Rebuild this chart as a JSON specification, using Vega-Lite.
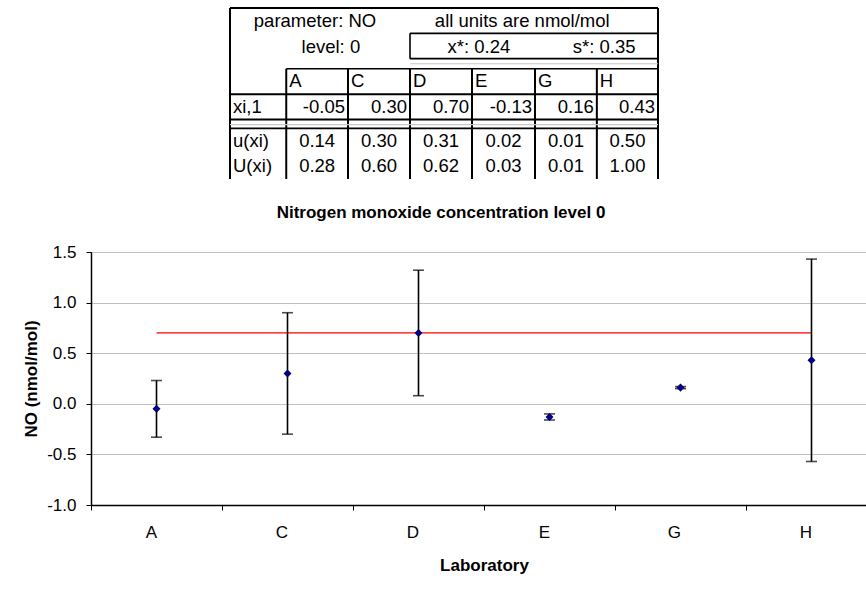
{
  "$schema": "https://vega.github.io/schema/vega-lite/v6.json",
  "padding": {"left": 22, "top": 7, "right": 0, "bottom": 0},
  "background": "white",
  "config": {"font": "Liberation Sans", "concat": {"spacing": 23}},
  "datasets": {
    "labs": [
      {"lab": "A", "xi": -0.05, "u": 0.14, "U": 0.28, "lo": -0.33, "hi": 0.23},
      {"lab": "C", "xi": 0.30, "u": 0.30, "U": 0.60, "lo": -0.30, "hi": 0.90},
      {"lab": "D", "xi": 0.70, "u": 0.31, "U": 0.62, "lo": 0.08, "hi": 1.32},
      {"lab": "E", "xi": -0.13, "u": 0.02, "U": 0.03, "lo": -0.16, "hi": -0.10},
      {"lab": "G", "xi": 0.16, "u": 0.01, "U": 0.01, "lo": 0.15, "hi": 0.17},
      {"lab": "H", "xi": 0.43, "u": 0.50, "U": 1.00, "lo": -0.57, "hi": 1.43}
    ],
    "ref": [{"from": "A", "to": "H", "level": 0.70}],
    "tlines": [
      {"kind": "thick", "c1": 0, "c2": 7, "r1": 0, "r2": 0},
      {"kind": "thick", "c1": 0, "c2": 0, "r1": 0, "r2": 6.75},
      {"kind": "thick", "c1": 7, "c2": 7, "r1": 0, "r2": 6.75},
      {"kind": "thin", "c1": 2.944, "c2": 7, "r1": 1, "r2": 1},
      {"kind": "thin", "c1": 2.944, "c2": 7, "r1": 2, "r2": 2},
      {"kind": "thin", "c1": 2.944, "c2": 2.944, "r1": 1, "r2": 2},
      {"kind": "gray", "c1": 2.944, "c2": 7, "r1": 2.2, "r2": 2.2},
      {"kind": "thin", "c1": 0.92, "c2": 7, "r1": 2.4, "r2": 2.4},
      {"kind": "thick", "c1": 0.92, "c2": 0.92, "r1": 2.4, "r2": 6.75},
      {"kind": "thick", "c1": 1.93, "c2": 1.93, "r1": 2.4, "r2": 6.75},
      {"kind": "thick", "c1": 2.944, "c2": 2.944, "r1": 2.4, "r2": 6.75},
      {"kind": "thick", "c1": 3.958, "c2": 3.958, "r1": 2.4, "r2": 6.75},
      {"kind": "thick", "c1": 4.988, "c2": 4.988, "r1": 2.4, "r2": 6.75},
      {"kind": "thick", "c1": 6.0, "c2": 6.0, "r1": 2.4, "r2": 6.75},
      {"kind": "thick", "c1": 0, "c2": 7, "r1": 3.4, "r2": 3.4},
      {"kind": "thick", "c1": 0, "c2": 7, "r1": 4.4, "r2": 4.4},
      {"kind": "gray", "c1": 0, "c2": 7, "r1": 4.6, "r2": 4.6},
      {"kind": "thin", "c1": 0, "c2": 7, "r1": 4.75, "r2": 4.75}
    ],
    "ttext": [
      {"part": "center", "c": 1.39, "r": 0.5, "text": "parameter: NO"},
      {"part": "center", "c": 1.65, "r": 1.55, "text": "level: 0"},
      {"part": "center", "c": 4.78, "r": 0.5, "text": "all units are nmol/mol"},
      {"part": "center", "c": 4.07, "r": 1.55, "text": "x*: 0.24"},
      {"part": "center", "c": 6.12, "r": 1.55, "text": "s*: 0.35"},
      {"part": "left", "c": 0.92, "r": 2.9, "text": "A"},
      {"part": "left", "c": 1.93, "r": 2.9, "text": "C"},
      {"part": "left", "c": 2.944, "r": 2.9, "text": "D"},
      {"part": "left", "c": 3.958, "r": 2.9, "text": "E"},
      {"part": "left", "c": 4.988, "r": 2.9, "text": "G"},
      {"part": "left", "c": 6.0, "r": 2.9, "text": "H"},
      {"part": "left", "c": 0, "r": 3.9, "text": "xi,1"},
      {"part": "left", "c": 0, "r": 5.25, "text": "u(xi)"},
      {"part": "left", "c": 0, "r": 6.25, "text": "U(xi)"},
      {"part": "right", "c": 1.93, "r": 3.9, "text": "-0.05"},
      {"part": "right", "c": 2.944, "r": 3.9, "text": "0.30"},
      {"part": "right", "c": 3.958, "r": 3.9, "text": "0.70"},
      {"part": "right", "c": 4.988, "r": 3.9, "text": "-0.13"},
      {"part": "right", "c": 6.0, "r": 3.9, "text": "0.16"},
      {"part": "right", "c": 7, "r": 3.9, "text": "0.43"},
      {"part": "center", "c": 1.425, "r": 5.25, "text": "0.14"},
      {"part": "center", "c": 2.437, "r": 5.25, "text": "0.30"},
      {"part": "center", "c": 3.451, "r": 5.25, "text": "0.31"},
      {"part": "center", "c": 4.473, "r": 5.25, "text": "0.02"},
      {"part": "center", "c": 5.494, "r": 5.25, "text": "0.01"},
      {"part": "center", "c": 6.5, "r": 5.25, "text": "0.50"},
      {"part": "center", "c": 1.425, "r": 6.25, "text": "0.28"},
      {"part": "center", "c": 2.437, "r": 6.25, "text": "0.60"},
      {"part": "center", "c": 3.451, "r": 6.25, "text": "0.62"},
      {"part": "center", "c": 4.473, "r": 6.25, "text": "0.03"},
      {"part": "center", "c": 5.494, "r": 6.25, "text": "0.01"},
      {"part": "center", "c": 6.5, "r": 6.25, "text": "1.00"}
    ]
  },
  "vconcat": [
    {
      "width": 786,
      "height": 171,
      "view": {"stroke": null},
      "layer": [
        {
          "data": {"name": "tlines"},
          "mark": {"type": "rule"},
          "encoding": {
            "x": {"field": "c1", "type": "quantitative", "scale": {"domain": [-2.2734, 10.582], "nice": false, "zero": false}, "axis": null},
            "x2": {"field": "c2"},
            "y": {"field": "r1", "type": "quantitative", "scale": {"domain": [0, 6.75], "reverse": true, "nice": false, "zero": false}, "axis": null},
            "y2": {"field": "r2"},
            "color": {"field": "kind", "type": "nominal", "scale": {"domain": ["thick", "thin", "gray"], "range": ["#000000", "#000000", "#c8c8c8"]}, "legend": null},
            "strokeWidth": {"field": "kind", "type": "nominal", "scale": {"domain": ["thick", "thin", "gray"], "range": [2, 1.2, 1.5]}, "legend": null}
          }
        },
        {
          "data": {"name": "ttext"},
          "transform": [{"filter": "datum.part === 'center'"}],
          "mark": {"type": "text", "align": "center", "baseline": "middle", "fontSize": 18.5, "color": "#000"},
          "encoding": {
            "x": {"field": "c", "type": "quantitative"},
            "y": {"field": "r", "type": "quantitative"},
            "text": {"field": "text", "type": "nominal"}
          }
        },
        {
          "data": {"name": "ttext"},
          "transform": [{"filter": "datum.part === 'left'"}],
          "mark": {"type": "text", "align": "left", "baseline": "middle", "fontSize": 18.5, "dx": 3, "color": "#000"},
          "encoding": {
            "x": {"field": "c", "type": "quantitative"},
            "y": {"field": "r", "type": "quantitative"},
            "text": {"field": "text", "type": "nominal"}
          }
        },
        {
          "data": {"name": "ttext"},
          "transform": [{"filter": "datum.part === 'right'"}],
          "mark": {"type": "text", "align": "right", "baseline": "middle", "fontSize": 18.5, "dx": -3, "color": "#000"},
          "encoding": {
            "x": {"field": "c", "type": "quantitative"},
            "y": {"field": "r", "type": "quantitative"},
            "text": {"field": "text", "type": "nominal"}
          }
        }
      ]
    },
    {
      "width": 786,
      "height": 253,
      "title": {"text": "Nitrogen monoxide concentration level 0", "fontSize": 17, "fontWeight": "bold", "offset": 21, "dx": -43, "color": "#000"},
      "view": {"stroke": "#808080"},
      "layer": [
        {
          "data": {"name": "ref"},
          "mark": {"type": "rule", "color": "#ff0000", "strokeWidth": 1.2},
          "encoding": {
            "x": {"field": "from", "type": "nominal"},
            "x2": {"field": "to"},
            "y": {"field": "level", "type": "quantitative"}
          }
        },
        {
          "data": {"name": "labs"},
          "mark": {"type": "rule", "color": "#000", "strokeWidth": 1.6},
          "encoding": {
            "x": {"field": "lab", "type": "nominal"},
            "y": {"field": "lo", "type": "quantitative"},
            "y2": {"field": "hi"}
          }
        },
        {
          "data": {"name": "labs"},
          "mark": {"type": "tick", "color": "#000", "thickness": 1.6, "size": 11},
          "encoding": {
            "x": {"field": "lab", "type": "nominal"},
            "y": {"field": "lo", "type": "quantitative"}
          }
        },
        {
          "data": {"name": "labs"},
          "mark": {"type": "tick", "color": "#000", "thickness": 1.6, "size": 11},
          "encoding": {
            "x": {"field": "lab", "type": "nominal"},
            "y": {"field": "hi", "type": "quantitative"}
          }
        },
        {
          "data": {"name": "labs"},
          "mark": {"type": "point", "shape": "diamond", "filled": true, "color": "#000080", "size": 65, "opacity": 1},
          "encoding": {
            "x": {
              "field": "lab", "type": "nominal",
              "scale": {"type": "band", "domain": ["A", "C", "D", "E", "G", "H"], "paddingInner": 0, "paddingOuter": 0},
              "axis": {"title": "Laboratory", "labelAngle": 0, "tickBand": "extent", "grid": false, "domainColor": "#000", "domainWidth": 1.5, "tickColor": "#000", "tickSize": 5, "labelPadding": 22, "labelFontSize": 17, "labelColor": "#000", "titleFontSize": 17, "titleFontWeight": "bold", "titleColor": "#000", "titlePadding": 17}
            },
            "y": {
              "field": "xi", "type": "quantitative",
              "scale": {"domain": [-1, 1.5], "nice": false, "zero": false},
              "axis": {"title": "NO (nmol/mol)", "values": [-1, -0.5, 0, 0.5, 1, 1.5], "format": ".1f", "labelExpr": "replace(datum.label, '−', '-')", "grid": true, "gridColor": "#c0c0c0", "domainColor": "#000", "domainWidth": 1.5, "tickColor": "#000", "tickSize": 5, "labelFontSize": 17, "labelColor": "#000", "labelPadding": 10, "titleFontSize": 17, "titleFontWeight": "bold", "titleColor": "#000", "titlePadding": 6}
            }
          }
        }
      ]
    }
  ]
}
